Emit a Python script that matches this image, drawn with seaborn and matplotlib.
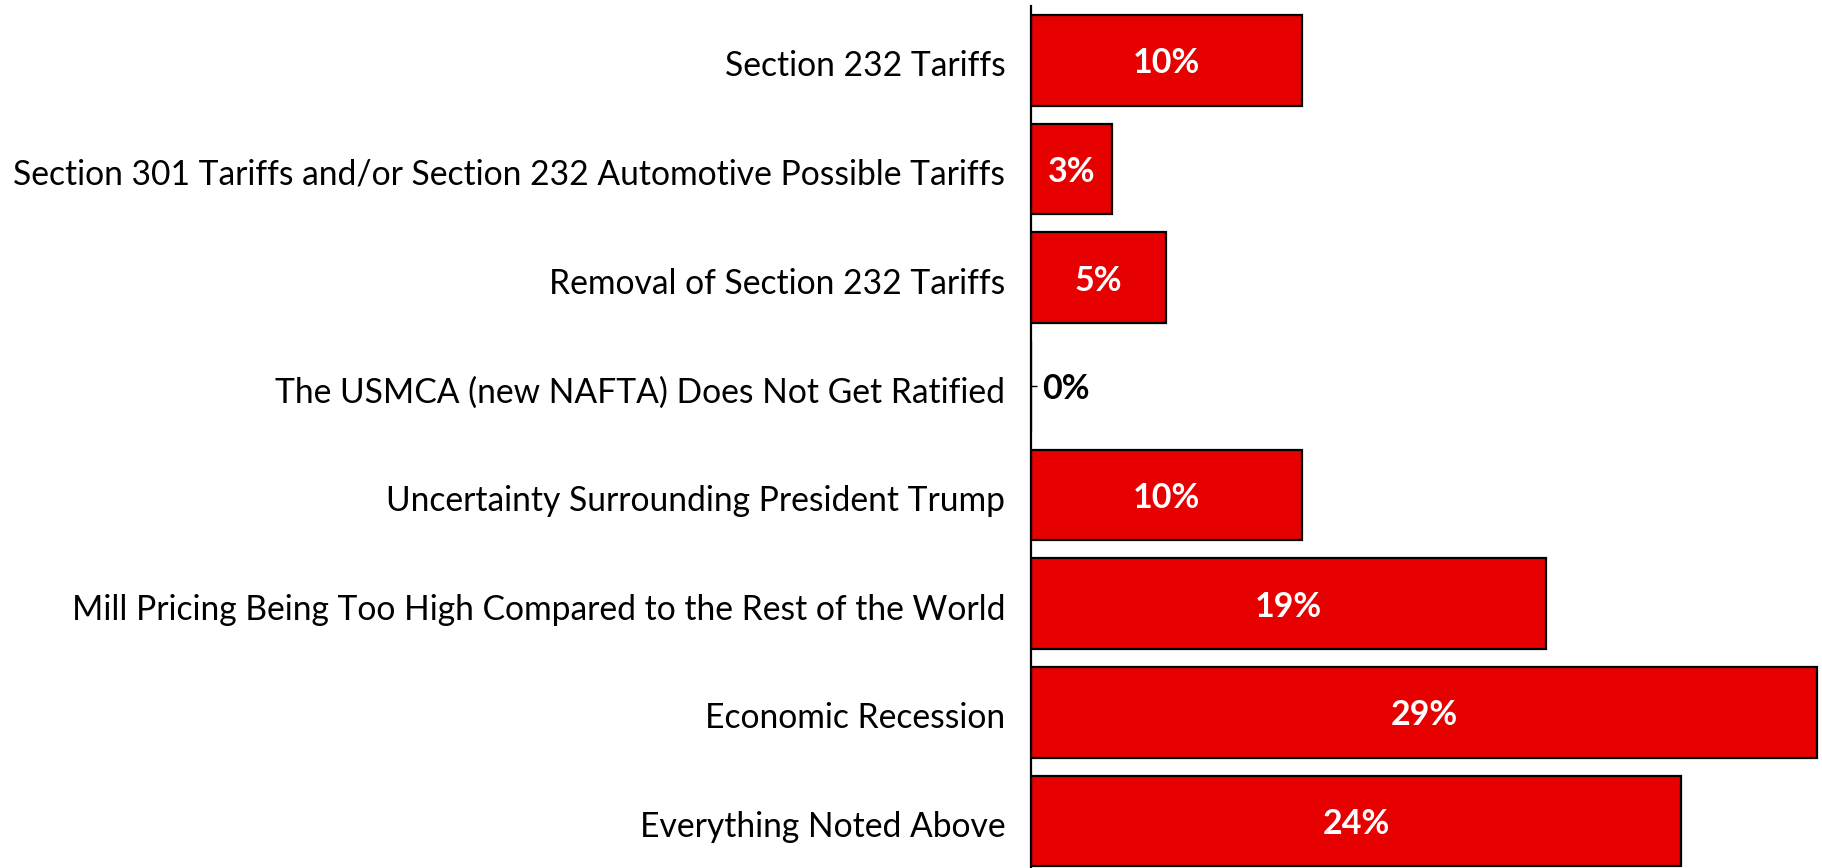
import matplotlib
matplotlib.use("Agg")
import matplotlib.pyplot as plt
import matplotlib.transforms as mtransforms
import seaborn as sns
import pandas as pd

categories = [
    "Section 232 Tariffs",
    "Section 301 Tariffs and/or Section 232 Automotive Possible Tariffs",
    "Removal of Section 232 Tariffs",
    "The USMCA (new NAFTA) Does Not Get Ratified",
    "Uncertainty Surrounding President Trump",
    "Mill Pricing Being Too High Compared to the Rest of the World",
    "Economic Recession",
    "Everything Noted Above",
]
values = [10, 3, 5, 0, 10, 19, 29, 24]

sns.set_theme(style="white")
plt.rcParams["font.family"] = ["Lato", "DejaVu Sans"]

df = pd.DataFrame({"concern": categories, "pct": values})

W, H = 1822, 868
fig = plt.figure(figsize=(W / 100, H / 100), dpi=100)
ax_left = 1031 / W
ax = fig.add_axes([ax_left, 0.0, 1 - ax_left, 1 - 6 / H])

sns.barplot(data=df, y="concern", x="pct", orient="h", color="#E60000",
            edgecolor="black", linewidth=1.6, width=0.835, saturation=1,
            ax=ax)

ax.set_xlim(0, 29.19)
ax.set_ylim(7.433, -0.5)
ax.set_xlabel("")
ax.set_ylabel("")
ax.set_xticks([])
for s in ["top", "right", "bottom"]:
    ax.spines[s].set_visible(False)
ax.spines["left"].set_color("black")
ax.spines["left"].set_linewidth(1.6)
ax.tick_params(axis="y", direction="in", length=4, width=1, color="black",
               labelsize=24.2, pad=18.5, left=True)

# nudge the text a few pixels lower
shift = mtransforms.ScaledTranslation(0, -3 / 100, fig.dpi_scale_trans)
for t in ax.get_yticklabels():
    t.set_color("black")
    t.set_transform(t.get_transform() + shift)

for i, v in enumerate(values):
    if v > 0:
        ax.text(v / 2, i, f"{v}%", ha="center", va="center", color="white",
                fontsize=24.5, fontweight="bold",
                transform=ax.transData + shift)
    else:
        ax.text(0.4, i, f"{v}%", ha="left", va="center", color="black",
                fontsize=24.5, fontweight="bold",
                transform=ax.transData + shift)

fig.savefig("out.png", dpi=100)
